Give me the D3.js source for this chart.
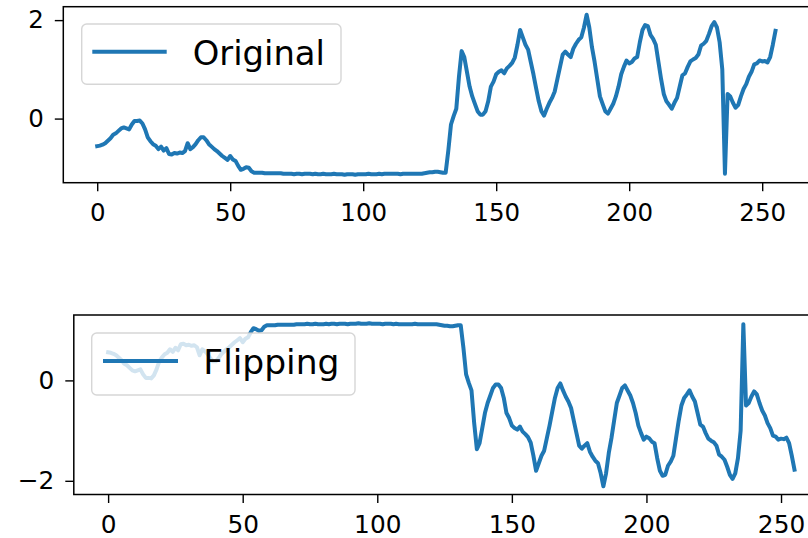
<!DOCTYPE html>
<html><head><meta charset="utf-8">
<script src="https://cdn.jsdelivr.net/npm/d3@7"></script>
<style>html,body{margin:0;padding:0;background:#fff;overflow:hidden}svg{display:block}</style>
</head><body>
<svg id="chart" width="808" height="538"></svg>
<script>
// ---- data ----
const original = [
-0.56,-0.55,-0.53,-0.50,-0.45,-0.40,-0.33,-0.30,-0.25,-0.20,
-0.18,-0.20,-0.22,-0.12,-0.05,-0.05,-0.04,-0.10,-0.22,-0.38,
-0.46,-0.52,-0.55,-0.62,-0.57,-0.65,-0.60,-0.72,-0.73,-0.70,
-0.71,-0.69,-0.70,-0.66,-0.50,-0.62,-0.58,-0.52,-0.44,-0.38,
-0.38,-0.44,-0.52,-0.57,-0.62,-0.66,-0.71,-0.76,-0.80,-0.84,
-0.76,-0.83,-0.86,-0.96,-1.04,-1.02,-0.99,-1.00,-1.07,-1.10,
-1.10,-1.10,-1.10,-1.11,-1.11,-1.11,-1.11,-1.11,-1.11,-1.11,
-1.12,-1.12,-1.12,-1.12,-1.13,-1.12,-1.12,-1.13,-1.12,-1.12,
-1.12,-1.13,-1.12,-1.13,-1.13,-1.12,-1.13,-1.13,-1.13,-1.12,
-1.13,-1.13,-1.13,-1.14,-1.13,-1.13,-1.13,-1.14,-1.13,-1.13,
-1.13,-1.13,-1.12,-1.13,-1.13,-1.13,-1.12,-1.13,-1.12,-1.12,
-1.12,-1.12,-1.12,-1.12,-1.13,-1.12,-1.12,-1.12,-1.12,-1.12,
-1.12,-1.12,-1.12,-1.11,-1.10,-1.09,-1.09,-1.08,-1.08,-1.09,
-1.10,-1.10,-0.65,-0.12,0.05,0.20,0.85,1.37,1.25,0.95,
0.65,0.45,0.30,0.15,0.08,0.08,0.15,0.35,0.65,0.75,
0.90,0.95,0.98,0.92,1.02,1.07,1.13,1.24,1.50,1.80,
1.65,1.50,1.40,1.15,0.90,0.62,0.35,0.15,0.06,0.20,
0.32,0.42,0.55,0.80,1.05,1.30,1.36,1.30,1.25,1.42,
1.52,1.60,1.65,1.85,2.11,1.85,1.45,1.15,0.80,0.45,
0.30,0.15,0.10,0.20,0.30,0.45,0.65,0.90,1.05,1.18,
1.12,1.15,1.22,1.25,1.55,1.80,1.90,1.88,1.70,1.62,
1.50,1.15,0.80,0.50,0.35,0.28,0.20,0.32,0.42,0.65,
0.88,0.92,1.05,1.16,1.20,1.23,1.30,1.48,1.52,1.58,
1.72,1.88,1.96,1.85,1.55,1.00,-1.12,0.50,0.45,0.32,
0.22,0.28,0.45,0.60,0.70,0.85,0.95,1.10,1.12,1.18,
1.16,1.17,1.14,1.25,1.50,1.78
];
const flipped = [
0.56,0.55,0.53,0.50,0.45,0.40,0.33,0.30,0.25,0.20,
0.18,0.20,0.22,0.12,0.05,0.05,0.04,0.10,0.22,0.38,
0.46,0.52,0.55,0.62,0.57,0.65,0.60,0.72,0.73,0.70,
0.71,0.69,0.70,0.66,0.50,0.62,0.58,0.52,0.44,0.38,
0.38,0.44,0.52,0.57,0.62,0.66,0.71,0.76,0.80,0.84,
0.76,0.83,0.86,0.96,1.04,1.02,0.99,1.00,1.07,1.10,
1.10,1.10,1.10,1.11,1.11,1.11,1.11,1.11,1.11,1.11,
1.12,1.12,1.12,1.12,1.13,1.12,1.12,1.13,1.12,1.12,
1.12,1.13,1.12,1.13,1.13,1.12,1.13,1.13,1.13,1.12,
1.13,1.13,1.13,1.14,1.13,1.13,1.13,1.14,1.13,1.13,
1.13,1.13,1.12,1.13,1.13,1.13,1.12,1.13,1.12,1.12,
1.12,1.12,1.12,1.12,1.13,1.12,1.12,1.12,1.12,1.12,
1.12,1.12,1.12,1.11,1.10,1.09,1.09,1.08,1.08,1.09,
1.10,1.10,0.65,0.12,-0.05,-0.20,-0.85,-1.37,-1.25,-0.95,
-0.65,-0.45,-0.30,-0.15,-0.08,-0.08,-0.15,-0.35,-0.65,-0.75,
-0.90,-0.95,-0.98,-0.92,-1.02,-1.07,-1.13,-1.24,-1.50,-1.80,
-1.65,-1.50,-1.40,-1.15,-0.90,-0.62,-0.35,-0.15,-0.06,-0.20,
-0.32,-0.42,-0.55,-0.80,-1.05,-1.30,-1.36,-1.30,-1.25,-1.42,
-1.52,-1.60,-1.65,-1.85,-2.11,-1.85,-1.45,-1.15,-0.80,-0.45,
-0.30,-0.15,-0.10,-0.20,-0.30,-0.45,-0.65,-0.90,-1.05,-1.18,
-1.12,-1.15,-1.22,-1.25,-1.55,-1.80,-1.90,-1.88,-1.70,-1.62,
-1.50,-1.15,-0.80,-0.50,-0.35,-0.28,-0.20,-0.32,-0.42,-0.65,
-0.88,-0.92,-1.05,-1.16,-1.20,-1.23,-1.30,-1.48,-1.52,-1.58,
-1.72,-1.88,-1.96,-1.85,-1.55,-1.00,1.12,-0.50,-0.45,-0.32,
-0.22,-0.28,-0.45,-0.60,-0.70,-0.85,-0.95,-1.10,-1.12,-1.18,
-1.16,-1.17,-1.14,-1.25,-1.50,-1.78
];
const xTicks = [0, 50, 100, 150, 200, 250];
const yTicksTop = [0, 2];
const yTicksBottom = [-2, 0];
const legendLabels = ["Original", "Flipping"];

// ---- drawing ----
const svg = d3.select("#chart");
const COLOR = "#1f77b4";
const FONT = "DejaVu Sans, sans-serif";

function panel(opts) {
  const { data, box, yTicks, label, lg, tickFont, lgFont, id } = opts;
  const n = data.length;
  const x = d3.scaleLinear().domain([-0.05 * (n - 1), (n - 1) * 1.05]).range([box.left, box.right]);
  const [mn, mx] = d3.extent(data);
  const pad = (mx - mn) * 0.05;
  const y = d3.scaleLinear().domain([mn - pad, mx + pad]).range([box.bottom, box.top]);

  const g = svg.append("g");
  g.append("clipPath").attr("id", id).append("rect")
    .attr("x", box.left).attr("y", box.top)
    .attr("width", box.right - box.left).attr("height", box.bottom - box.top);

  const line = d3.line().x((d, i) => x(i)).y(d => y(d));
  g.append("path").datum(data)
    .attr("clip-path", `url(#${id})`)
    .attr("d", line)
    .attr("fill", "none").attr("stroke", COLOR)
    .attr("stroke-width", 4).attr("stroke-linejoin", "round").attr("stroke-linecap", "square");

  // spines
  g.append("rect")
    .attr("x", box.left).attr("y", box.top)
    .attr("width", box.right - box.left).attr("height", box.bottom - box.top)
    .attr("fill", "none").attr("stroke", "#000").attr("stroke-width", 1.5);

  // axes
  const fmt = d => d3.format("d")(d);
  const xa = g.append("g").attr("transform", `translate(0,${box.bottom})`)
    .call(d3.axisBottom(x).tickValues(xTicks).tickFormat(fmt).tickSize(8.5).tickPadding(12));
  const ya = g.append("g").attr("transform", `translate(${box.left},0)`)
    .call(d3.axisLeft(y).tickValues(yTicks).tickFormat(fmt).tickSize(8.5).tickPadding(11));
  [xa, ya].forEach(a => {
    a.select(".domain").remove();
    a.selectAll(".tick line").attr("stroke", "#000").attr("stroke-width", 1.4);
    a.selectAll(".tick text").attr("fill", "#000")
      .style("font-family", FONT).style("font-size", tickFont + "px");
  });

  // legend
  const lgG = g.append("g");
  lgG.append("rect")
    .attr("x", lg.x).attr("y", lg.y).attr("width", lg.w).attr("height", lg.h)
    .attr("rx", 5).attr("ry", 5)
    .attr("fill", "#fff").attr("fill-opacity", 0.8)
    .attr("stroke", "#cccccc").attr("stroke-opacity", 0.8).attr("stroke-width", 1.4);
  lgG.append("line")
    .attr("x1", lg.lx1).attr("x2", lg.lx2).attr("y1", lg.ly).attr("y2", lg.ly)
    .attr("stroke", COLOR).attr("stroke-width", 4);
  lgG.append("text")
    .attr("x", lg.tx).attr("y", lg.ty)
    .style("font-family", FONT).style("font-size", lgFont + "px")
    .attr("fill", "#000").text(label);
}

panel({
  id: "clipTop", data: original,
  box: { left: 63.3, right: 809.4, top: 6.7, bottom: 182.7 },
  yTicks: yTicksTop, label: legendLabels[0], tickFont: 24.5, lgFont: 33.8,
  lg: { x: 81.7, y: 24, w: 259.3, h: 60.3, lx1: 92.3, lx2: 166.7, ly: 51.7, tx: 192.7, ty: 64.5 }
});
panel({
  id: "clipBottom", data: flipped,
  box: { left: 73.8, right: 828.8, top: 315, bottom: 494.5 },
  yTicks: yTicksBottom, label: legendLabels[1], tickFont: 24.8, lgFont: 34.5,
  lg: { x: 91.7, y: 333, w: 263.3, h: 62, lx1: 103, lx2: 178, ly: 361, tx: 203.3, ty: 373.5 }
});
</script>
</body></html>
